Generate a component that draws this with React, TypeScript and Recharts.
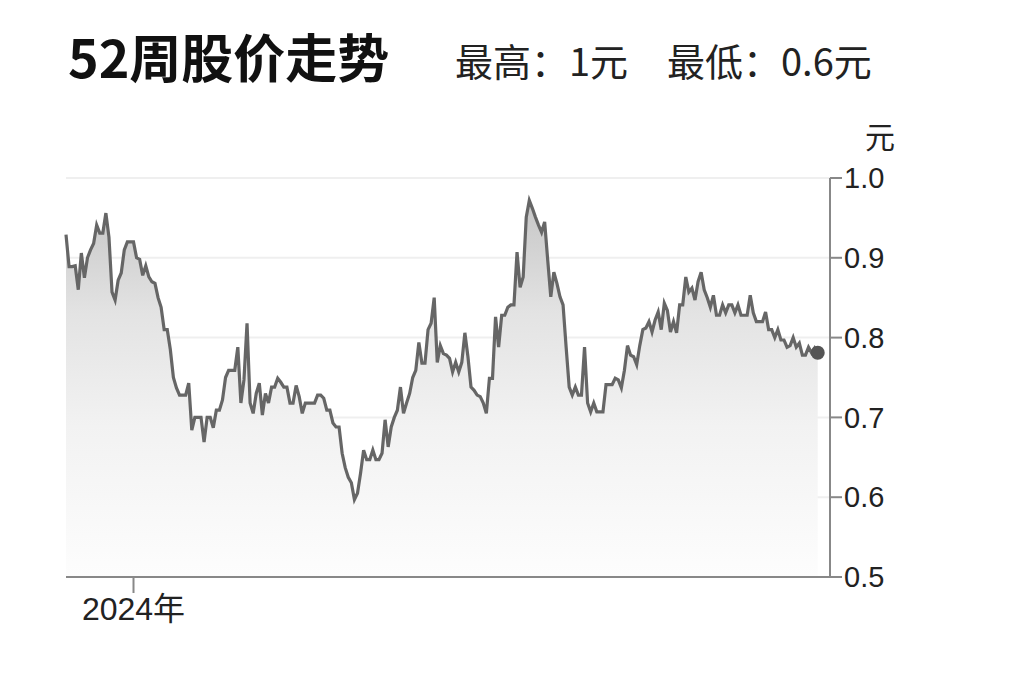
import React from "react";
import {
  ComposedChart,
  Area,
  XAxis,
  YAxis,
  CartesianGrid,
  ReferenceDot,
} from "recharts";

// daily closing price (元), oldest first
const pricesDec = [
  0.929, 0.889, 0.889, 0.89, 0.86, 0.906, 0.875, 0.9, 0.91, 0.918,
  0.941, 0.931, 0.931, 0.956, 0.926, 0.857, 0.847, 0.872, 0.881, 0.91,
  0.92, 0.92, 0.92, 0.9, 0.898, 0.878, 0.89, 0.876, 0.87, 0.868,
  0.85, 0.838, 0.81, 0.81, 0.785, 0.75, 0.737, 0.728, 0.728, 0.728,
  0.743,
];
const pricesSpring = [
  0.684, 0.7, 0.7, 0.7, 0.669, 0.7, 0.7, 0.687, 0.709, 0.709,
  0.722, 0.75, 0.759, 0.759, 0.759, 0.788, 0.718, 0.747, 0.818, 0.718,
  0.705, 0.73, 0.743, 0.703, 0.73, 0.718, 0.738, 0.738, 0.749, 0.744,
  0.738, 0.738, 0.718, 0.718, 0.74, 0.726, 0.705, 0.718, 0.718, 0.718,
  0.718, 0.728, 0.728,
];
const pricesSummer = [
  0.724, 0.709, 0.709, 0.693, 0.688, 0.688, 0.655, 0.637, 0.625, 0.618,
  0.597, 0.605, 0.63, 0.659, 0.647, 0.647, 0.659, 0.647, 0.647, 0.655,
  0.697, 0.663, 0.688, 0.7, 0.709, 0.738, 0.705, 0.718, 0.73, 0.75,
  0.759, 0.794, 0.768, 0.768, 0.81, 0.818, 0.85, 0.769, 0.79, 0.78,
  0.778,
];
const pricesAutumn = [
  0.774, 0.757, 0.769, 0.757, 0.769, 0.806, 0.776, 0.738, 0.734, 0.728,
  0.726, 0.718, 0.705, 0.749, 0.749, 0.826, 0.788, 0.828, 0.828, 0.838,
  0.841, 0.841, 0.907, 0.863, 0.876, 0.951, 0.972, 0.962, 0.951, 0.941,
  0.932, 0.945, 0.897, 0.851, 0.882, 0.868, 0.851, 0.841, 0.788, 0.738,
];
const pricesLate = [
  0.728, 0.738, 0.728, 0.728, 0.788, 0.718, 0.707, 0.718, 0.707, 0.707,
  0.707, 0.741, 0.741, 0.741, 0.749, 0.747, 0.737, 0.759, 0.79, 0.778,
  0.776, 0.766, 0.79, 0.81, 0.812, 0.82, 0.807, 0.822, 0.832, 0.81,
  0.843, 0.834, 0.807, 0.82, 0.806, 0.841, 0.841, 0.876, 0.857, 0.862,
  0.847, 0.87,
];
const pricesRecent = [
  0.882, 0.86, 0.85, 0.838, 0.853, 0.828, 0.828, 0.841, 0.831, 0.841,
  0.841, 0.831, 0.841, 0.828, 0.828, 0.828, 0.853, 0.831, 0.82, 0.82,
  0.82, 0.832, 0.81, 0.81, 0.8, 0.81, 0.797, 0.797, 0.788, 0.79,
  0.8, 0.788, 0.793, 0.778, 0.778, 0.788, 0.781, 0.787, 0.781,
];

const yTicks = [0.5, 0.6, 0.7, 0.8, 0.9, 1.0];
const yearTickIndex = 22; // first trading day of 2024
const yearLabel = "2024年";
const unitLabel = "元";
const titleText = "52周股价走势";
const highText = "最高：1元";
const lowText = "最低：0.6元";

const prices = [
  ...pricesDec,
  ...pricesSpring,
  ...pricesSummer,
  ...pricesAutumn,
  ...pricesLate,
  ...pricesRecent,
];
const data = prices.map((price, i) => ({ i, price }));
const last = data[data.length - 1];

const labelFont = "'Liberation Sans', 'Noto Sans CJK SC', sans-serif";
const cjkFont = "'Noto Sans CJK SC', 'Liberation Sans', sans-serif";

export default function App() {
  return (
    <div
      style={{
        position: "relative",
        width: 1024,
        height: 682,
        background: "#fff",
        overflow: "hidden",
      }}
    >
      <style>{"body{margin:0}"}</style>
      <div style={{ position: "absolute", left: 0, top: 0 }}>
        <ComposedChart
          width={1024}
          height={682}
          data={data}
          margin={{ top: 178, right: 114, bottom: 45, left: 66 }}
        >
          <defs>
            <linearGradient id="fade" x1="0" y1="0" x2="0" y2="1">
              <stop offset="0%" stopColor="#c6c6c6" />
              <stop offset="30%" stopColor="#e3e3e3" />
              <stop offset="60%" stopColor="#f2f2f2" />
              <stop offset="100%" stopColor="#fdfdfd" />
            </linearGradient>
          </defs>
          <CartesianGrid vertical={false} stroke="#efefef" strokeWidth={2} />
          <XAxis
            dataKey="i"
            type="number"
            domain={[0, prices.length + 3]}
            ticks={[yearTickIndex]}
            tickFormatter={() => yearLabel}
            stroke="#888"
            strokeWidth={2}
            tickSize={16}
            tickMargin={4}
            height={60}
            tick={{ fill: "#222", fontSize: 32, fontFamily: labelFont }}
          />
          <YAxis
            orientation="right"
            domain={[0.5, 1.0]}
            ticks={yTicks}
            tickFormatter={(v) => v.toFixed(1)}
            stroke="#888"
            strokeWidth={2}
            tickSize={12}
            tickMargin={2}
            width={80}
            tick={{ fill: "#222", fontSize: 29, fontFamily: labelFont }}
          />
          <Area
            type="linear"
            dataKey="price"
            stroke="#666"
            strokeWidth={3.2}
            fill="url(#fade)"
            fillOpacity={1}
            dot={false}
            activeDot={false}
            isAnimationActive={false}
          />
          <ReferenceDot
            x={last.i}
            y={last.price}
            r={7}
            fill="#555"
            stroke="none"
          />
        </ComposedChart>
      </div>
      <div
        style={{
          position: "absolute",
          left: 68,
          top: 30,
          fontSize: 52,
          fontWeight: 700,
          lineHeight: 1,
          color: "#111",
          fontFamily: cjkFont,
        }}
      >
        {titleText}
      </div>
      <div
        style={{
          position: "absolute",
          left: 455,
          top: 41,
          fontSize: 38,
          lineHeight: 1,
          color: "#222",
          fontFamily: cjkFont,
        }}
      >
        {highText}
      </div>
      <div
        style={{
          position: "absolute",
          left: 667,
          top: 41,
          fontSize: 38,
          lineHeight: 1,
          color: "#222",
          fontFamily: cjkFont,
        }}
      >
        {lowText}
      </div>
      <div
        style={{
          position: "absolute",
          left: 865,
          top: 120,
          fontSize: 30,
          lineHeight: 1,
          color: "#222",
          fontFamily: cjkFont,
        }}
      >
        {unitLabel}
      </div>
    </div>
  );
}
